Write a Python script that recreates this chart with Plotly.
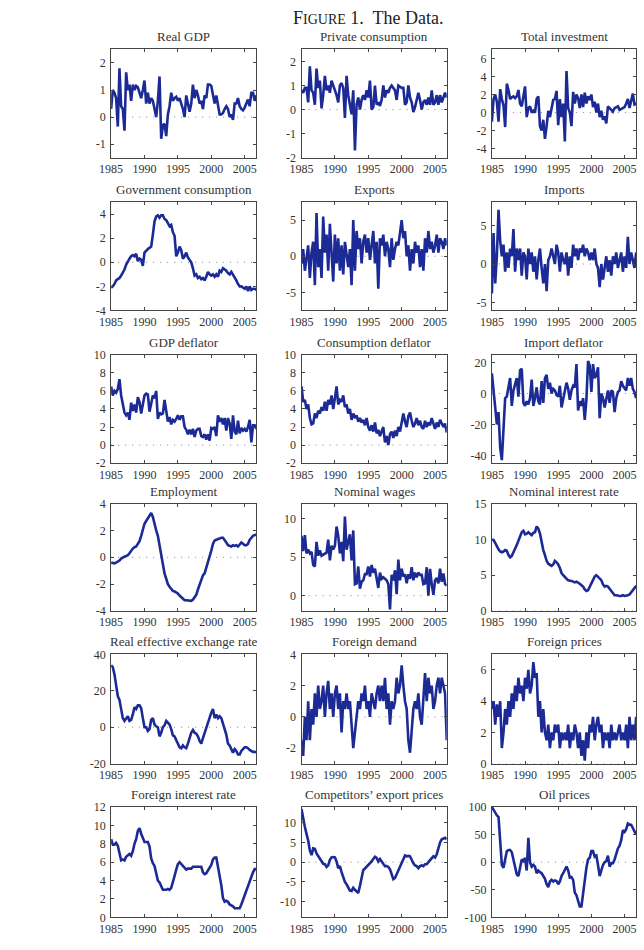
import plotly.graph_objects as go

# ---------------- data (quarterly, 1985Q1 - 2006Q4) ----------------
years = list(range(1985, 2007))
x_ticks = [1985, 1990, 1995, 2000, 2005]

titles = [
    "Real GDP", "Private consumption", "Total investment",
    "Government consumption", "Exports", "Imports",
    "GDP deflator", "Consumption deflator", "Import deflator",
    "Employment", "Nominal wages", "Nominal interest rate",
    "Real effective exchange rate", "Foreign demand", "Foreign prices",
    "Foreign interest rate", "Competitors\u2019 export prices", "Oil prices",
]

real_gdp = [
    0.3, 1.0, 0.9, 0.7,
    -0.35, 1.8, 0.4, 0.3,
    -0.5, 1.65, 1.0, 1.2,
    0.6, 1.2, 1.0, 1.15,
    1.1, 0.9, 0.7, 1.0,
    1.35, 0.5, 0.9, 0.5,
    0.7, 0.6, 0.3, 0.0,
    0.6, 1.5, -0.8, -0.3,
    -0.25, -0.7, 0.1, 0.4,
    0.9, 0.6, 0.7, 0.75,
    0.6, 0.7, 0.5, 0.3,
    0.0, 0.8, 0.5, 0.2,
    0.5, 1.2, 0.7, 1.0,
    0.8, 0.5, 0.6, 0.3,
    0.8, 0.7, 1.2, 1.2,
    1.15, 0.8, 0.5, 0.8,
    0.5, 0.1, 0.1, 0.15,
    0.3, 0.4, 0.3, 0.0,
    0.1, -0.1, 0.5, 0.5,
    0.7, 0.4, 0.3, 0.25,
    0.35, 0.5, 0.65, 0.4,
    0.9, 0.9, 0.6, 0.8,
]

private_consumption = [
    0.8, 0.7, 0.9, 0.9,
    0.3, 1.8, 0.8, 0.7,
    0.2, 1.7, 0.9, 1.2,
    0.05, 0.6, 1.4, 0.8,
    1.0, 0.7, 1.2, 1.0,
    0.8, 0.6, 0.3, 1.0,
    1.1, 0.9, -0.35, 1.4,
    0.6, 0.2, -0.2, 0.8,
    -1.7, 0.2, 0.5, 0.0,
    0.4, 0.6, 0.4, 0.8,
    0.5, 1.2, 0.0, 0.1,
    1.0, 0.2, 0.3, 0.15,
    0.4, 1.0, 0.5, 0.8,
    0.7, 0.9, 1.0, 0.9,
    0.8, 0.4, 1.0, 0.95,
    0.9, 0.9, 0.2, 0.3,
    1.0, 0.5, 0.3, -0.1,
    0.1, 0.4, 0.7, 0.4,
    0.0, 0.3, 0.4, 0.2,
    0.5, 0.2, 0.8, 0.2,
    0.3, 0.6, 0.2, 0.6,
    0.3, 0.5, 0.7, 0.5,
]

total_investment = [
    -1.0, 1.5, 2.0, 1.2,
    -1.0, 2.6, 1.5, 0.8,
    -1.6, 3.2, 2.5, 1.5,
    1.7, 1.8, 1.6, 1.8,
    2.5, 1.0, 0.7, 2.0,
    2.9, -0.5, 0.5, 0.7,
    0.0, 0.2, 0.0, 1.5,
    1.8, -1.5, -2.0, -0.8,
    -2.9, -1.5, 0.2, -0.5,
    0.3, 1.4, 1.5, 2.4,
    -1.4, 1.5, -0.5, 1.0,
    -3.2, 4.6, 0.5, 0.0,
    -1.5, 2.3, 1.0, 2.0,
    1.6, 0.5, 2.0, 0.6,
    2.2, 1.0, 1.8, 1.4,
    2.0, 0.6, 1.2, 0.0,
    1.0, -0.5, 0.2, -0.8,
    -0.4, -1.2, 0.7, 0.5,
    0.3, 0.1, 0.5, 0.6,
    0.7, 0.3, 0.4, 0.5,
    0.6, 1.0, 1.5, 0.5,
    1.2, 2.1, 0.9, 1.0,
]

government_consumption = [
    -2.1, -2.0, -1.8, -1.5,
    -1.4, -1.3, -1.1, -0.9,
    -0.6, -0.2, 0.1, 0.3,
    0.5, 0.6, 0.5, 0.7,
    0.1, 0.3, 0.2, -0.3,
    0.8, 1.0, 1.1, 1.2,
    1.3, 2.3, 3.4, 3.8,
    3.9, 3.7, 3.9, 3.9,
    3.6, 3.5, 3.2, 3.0,
    3.1, 2.5, 2.2, 0.5,
    0.8, 1.3, 1.0, 0.3,
    0.5, 0.8, 0.4, 0.2,
    0.0, -0.5, -1.1, -1.0,
    -1.3, -1.2, -1.4, -1.3,
    -1.5, -1.2, -0.8, -1.0,
    -1.1, -1.0, -1.2, -1.0,
    -1.2, -0.7, -0.8, -0.5,
    -0.6, -0.7, -0.9, -1.0,
    -0.8, -1.0, -1.3, -1.5,
    -1.8, -2.0, -2.0, -2.1,
    -2.2, -2.0, -2.4, -2.0,
    -2.3, -2.2, -2.2, -2.3,
]

exports = [
    -1.0, 1.0, -2.0, -0.5,
    1.5, -3.0, 0.5, 2.0,
    -4.0, 6.0, -1.5, 1.0,
    -3.0, 5.5, 0.5, 3.0,
    -2.0, 4.5, 1.0, -3.5,
    3.0, -1.0, 2.5, -2.0,
    1.5, -2.5, 2.0, 0.5,
    -1.5, 1.0, -4.0, 5.0,
    -2.0, 3.5, 1.0, 2.5,
    -1.0, 2.0, 3.0, 0.5,
    2.5, -0.5, 1.5, 3.5,
    -1.0, 2.0, -4.5, 2.5,
    1.5, 3.0, 0.0, 2.0,
    1.0, -1.5, 2.5, -0.5,
    1.0, 2.0, 1.5, 3.0,
    5.0, 2.5, 3.5, 0.0,
    1.5, -2.0, 1.0, -1.0,
    2.0, 0.5, 1.5, -1.5,
    1.0, -2.0, 2.5, 0.5,
    3.5, 1.0, 2.0, 0.5,
    1.5, 3.0, 0.5, 2.5,
    2.0, 1.0, 2.5, 1.5,
]

imports = [
    -3.8, 4.0, -2.5, 1.0,
    7.0, 3.0, 1.0, 2.5,
    -1.0, 1.5, -0.5, 2.0,
    1.0, 4.5, -1.0, 2.0,
    0.5, 2.0, -1.5, 1.5,
    1.0, -2.0, 2.0, 0.0,
    1.5, -1.0, 1.0, -2.0,
    0.5, 2.0, -0.5, -2.5,
    0.0, -3.5, 0.5, 1.0,
    2.0, 1.0, 0.0, 2.5,
    1.5, -1.0, 1.5, 0.5,
    0.0, 1.5, -1.5, 1.0,
    -0.5, 2.5, 1.0, 2.0,
    0.5, 2.0, 1.5, 2.5,
    1.0, 2.0, 1.5, 0.5,
    1.5, 0.5, 2.0, 0.0,
    -0.5, -3.0, 0.0, -2.0,
    -0.5, 1.0, -1.0, 0.5,
    -1.5, 1.0, 0.0, 1.5,
    -0.5, 0.5, 1.5, -1.0,
    1.0, -0.5, 3.5, 0.0,
    1.5, 0.5, -0.5, 1.5,
]

gdp_deflator = [
    6.5, 5.5, 6.0, 5.8,
    6.2, 7.3, 5.5, 4.5,
    3.6, 3.3, 3.6, 2.8,
    4.7, 3.8, 4.5, 3.6,
    5.3, 4.8, 3.5, 4.5,
    5.5, 5.7, 5.6, 3.7,
    4.8, 5.5, 5.2, 6.0,
    2.9, 3.6, 3.4, 3.5,
    5.0, 3.6, 2.6, 3.1,
    2.3, 2.8, 2.6, 2.9,
    3.3, 2.8, 3.2, 3.2,
    2.0, 1.7, 1.2, 1.7,
    1.2, 1.8, 0.9, 1.6,
    1.8, 1.8, 1.0, 0.9,
    1.2, 0.6, 1.2, 0.5,
    1.9, 1.8, 2.0, 1.0,
    3.3, 2.6, 3.0, 2.3,
    3.0, 1.6, 3.0, 2.4,
    0.7, 3.3, 1.5, 1.2,
    2.7, 1.3, 1.9, 1.6,
    1.8, 1.5, 2.0, 2.8,
    0.3, 2.2, 2.2, 1.8,
]

consumption_deflator = [
    6.5, 4.8, 5.0, 4.0,
    4.5, 3.0, 2.3, 2.4,
    3.5, 3.0, 3.8, 3.5,
    4.2, 3.8, 4.8, 3.8,
    5.0, 4.5, 5.5, 4.0,
    5.2, 6.5, 4.5, 5.0,
    4.8, 5.5, 4.2, 4.5,
    3.5, 4.0, 2.8, 3.5,
    3.0, 3.3, 2.6, 3.0,
    2.5, 2.8, 2.2, 3.0,
    2.0, 1.6, 2.2, 1.5,
    2.5, 1.3, 1.7, 1.0,
    1.5, 2.0, 0.3, 1.0,
    0.0, 1.2, 1.5, 0.8,
    1.6, 1.0, 2.0, 1.5,
    2.5, 3.5, 2.6, 2.0,
    3.2, 3.6, 2.7, 2.0,
    2.4, 3.0, 2.2, 2.7,
    2.0, 1.8, 2.7, 2.0,
    2.5, 2.2, 3.0, 2.3,
    1.8, 2.5, 2.0, 2.8,
    2.3, 2.0, 2.4, 1.4,
]

import_deflator = [
    13, 3, -8, -20,
    -12, -35, -43, -20,
    -3, -2, 5, 10,
    -8, 2, 6, 10,
    -2, 15, 16, -6,
    -8, -5, -7, -3,
    9, -8, -3, 4,
    -5, -7, 8, -6,
    10, 12, 3, 7,
    0, 3, 2, -1,
    -2, 5, -9, -3,
    1, 7, 3, -4,
    2, 5, 4, 19,
    -11, -5, -8, -3,
    -17, -4, 21, 18,
    1, 19, 10, 12,
    17, -16, 0, -3,
    -9, -2, 2, -6,
    2, 1, -12, -3,
    1, 2, 8, 5,
    3, 2, 10, 5,
    10, 3, 1, -3,
]

employment = [
    -0.4, -0.42, -0.45, -0.4,
    -0.35, -0.25, -0.1, 0.0,
    0.05, 0.1, 0.15, 0.3,
    0.5, 0.65, 0.75, 0.8,
    1.0, 1.2, 1.6, 2.1,
    2.5, 2.7, 2.9, 3.1,
    3.3, 3.0, 2.4, 2.0,
    1.6, 0.9, 0.0, -0.6,
    -1.2, -1.6, -2.0, -2.2,
    -2.4, -2.5, -2.55, -2.6,
    -2.7, -2.85, -2.95, -3.1,
    -3.2, -3.2, -3.2, -3.25,
    -3.25, -3.15, -3.0, -2.8,
    -2.4, -2.0, -1.6, -1.35,
    -1.2, -0.8, -0.4, 0.1,
    0.5, 1.0, 1.25, 1.3,
    1.35, 1.45, 1.45, 1.45,
    1.3, 1.1, 0.9, 0.85,
    0.8, 0.9, 0.85, 0.9,
    0.8, 0.95, 1.1, 1.0,
    0.9, 0.9, 1.0, 1.3,
    1.5, 1.6, 1.65, 1.7,
]

nominal_wages = [
    7.8, 5.8, 7.9, 5.5,
    6.0, 5.5, 5.7, 4.0,
    3.8, 7.0, 5.2, 5.9,
    5.2, 5.3, 5.4, 5.6,
    7.3, 4.6, 6.5, 6.0,
    6.5, 9.0, 7.8, 5.5,
    7.0, 4.5, 10.3, 6.0,
    7.0, 8.0, 4.6, 8.5,
    1.5, 1.6, 3.8, 0.9,
    1.8, 2.0, 2.8, 2.8,
    3.8, 2.5, 4.0, 3.0,
    3.5, 2.0, 1.0, 3.0,
    2.2, 2.4, 2.2, 2.0,
    1.5, -1.8, 2.7, 2.0,
    3.3, 0.2, 4.7, 2.0,
    3.5, 2.5, 2.8, 1.6,
    2.8, 2.2, 3.7, 2.0,
    3.0, 2.4, 3.0, 2.7,
    2.7, 1.5, 1.6, 3.7,
    0.0, 3.5, 1.5, 0.1,
    2.0, 2.3, 1.6, 3.5,
    1.8, 2.9, 1.5, 1.3,
]

nominal_interest_rate = [
    10.0, 9.9, 9.5, 9.0,
    8.6, 8.3, 8.2, 8.3,
    8.5, 8.4, 7.8, 7.5,
    7.7, 8.2, 8.6, 9.2,
    9.8, 10.5, 11.0, 11.2,
    10.7, 10.8, 11.0, 10.8,
    10.6, 10.9, 11.0, 11.8,
    11.5, 10.8, 9.5, 8.5,
    7.8, 7.0, 6.6, 6.5,
    6.3, 6.5, 7.0, 6.8,
    6.5, 6.0, 5.3, 5.0,
    4.7, 4.5, 4.3, 4.3,
    4.2, 4.1, 4.0, 4.1,
    4.0, 3.8, 3.6, 3.4,
    3.0, 2.8, 2.9, 3.4,
    3.8, 4.3, 4.8, 5.0,
    4.8, 4.6, 4.3, 3.7,
    3.4, 3.5, 3.4, 3.1,
    2.8, 2.4, 2.2, 2.2,
    2.1, 2.1, 2.1, 2.2,
    2.1, 2.1, 2.2, 2.3,
    2.6, 2.9, 3.2, 3.5,
]

real_effective_exchange_rate = [
    34, 33, 29, 23,
    17, 15, 10, 5,
    3.5, 5, 6, 3.5,
    4, 7, 11, 10,
    12, 12, 10.5, 5,
    0, 0, -2, -1,
    4, 5, 1.5, 0.5,
    0, -5, -3, 0,
    1, 3.5, 2.5, 1.5,
    -1, -4.5, -5, -7,
    -9, -11, -11.5, -10,
    -11, -11.5, -9, -6,
    -3, -1.5, -3, -3.5,
    -5, -7.5, -9, -6,
    -3, -1, 2, 6,
    8, 10, 5, 7,
    5, 6, 5, 2,
    -1, -4, -9, -10,
    -12, -14, -12, -13,
    -15, -15, -13, -12,
    -11, -11, -11.5, -12.5,
    -13, -13.5, -13.5, -13.8,
]

foreign_demand = [
    -1.5, -2.5, 0.0, -1.5,
    1.0, -1.5, 0.5, -0.5,
    1.5, 0.0, 2.0, 0.5,
    1.0, 2.0, 0.0, 1.5,
    2.3, 0.5, 1.5, 0.0,
    1.5, 2.0, 0.5, 1.5,
    -1.0, 1.0, 0.5, 1.5,
    0.5, 1.0, -0.5, -2.0,
    -1.0, 0.0, 1.0, 0.5,
    1.5, 1.0, 2.0, 0.5,
    1.0, 0.0, 1.5, 1.0,
    0.5, 1.5, 2.0, 1.0,
    2.0, 1.0, 2.5, 0.5,
    1.5, -0.5, 1.0, 0.5,
    1.0, 2.5, 1.5, 2.0,
    3.3, 2.0, 1.0, 0.5,
    -1.5, -2.3, -1.0, 0.5,
    1.0, 0.5, 1.5, 0.0,
    -0.5, 1.5, 2.8, 1.0,
    2.5, 1.5, 2.0, 0.5,
    1.0, 2.0, 2.5, 1.5,
    2.5, 2.0, 1.5, -1.5,
]

foreign_prices = [
    3.5, 4.0, 2.5, 3.8,
    3.0, 4.0, 1.0, 2.0,
    3.5, 2.5, 4.0, 3.0,
    4.5, 3.5, 5.0, 4.0,
    5.5, 4.5, 5.0, 4.0,
    5.5, 4.8, 6.0, 4.5,
    5.0, 6.5, 5.5, 5.8,
    3.0, 4.0, 2.0, 3.5,
    2.0, 1.5, 2.5, 1.0,
    2.0, 1.5, 2.5, 2.0,
    2.5, 1.0, 2.0, 1.5,
    2.0, 1.5, 2.5, 1.0,
    2.0, 1.5, 2.5, 2.0,
    1.0, 2.0, 0.5, 1.5,
    0.2, 2.0, 1.0, 2.5,
    2.0, 3.0, 1.5, 2.5,
    3.0, 2.0, 2.5, 1.0,
    2.0, 1.5, 2.0, 1.0,
    2.5, 1.5, 2.0, 1.5,
    2.0, 2.5, 1.5, 2.0,
    1.5, 2.5, 1.0, 3.0,
    1.5, 2.5, 1.5, 3.0,
]

foreign_interest_rate = [
    8.5, 7.9, 7.9, 8.1,
    7.8, 6.9, 6.2, 6.3,
    6.2, 6.6, 6.8, 6.9,
    6.7, 7.2, 8.0, 8.5,
    9.4, 9.7, 9.1, 8.6,
    8.2, 8.2, 8.2, 7.7,
    6.4, 5.9, 5.6, 4.8,
    4.0, 3.8, 3.3, 3.0,
    3.0, 3.0, 3.1, 3.0,
    3.2, 4.0, 4.5, 5.2,
    5.8, 6.0, 5.8, 5.7,
    5.4, 5.2, 5.3, 5.3,
    5.3, 5.5, 5.5, 5.5,
    5.5, 5.5, 5.5, 4.9,
    4.7, 4.8, 5.1, 5.3,
    5.7, 6.3, 6.5, 6.5,
    5.6, 4.3, 3.5, 2.1,
    1.7, 1.8, 1.7, 1.4,
    1.3, 1.2, 1.0, 1.0,
    1.0, 1.0, 1.4, 1.9,
    2.5, 2.9, 3.4, 4.0,
    4.5, 4.9, 5.25, 5.25,
]

competitors_export_prices = [
    13.5, 11.0, 9.0, 7.2,
    5.5, 3.0, 1.8, 3.5,
    3.4, 2.2, 1.6, 1.0,
    0.2, -0.4, -0.5, -1.2,
    -0.8, 0.6, 1.2, 1.3,
    1.2, 0.2, -1.5, -1.0,
    -2.5, -3.8, -5.0, -5.6,
    -6.5, -7.2, -7.3, -6.5,
    -7.0, -7.5, -7.8, -6.0,
    -3.5, -2.0, -1.6, -1.2,
    -0.8, -0.4, 0.2, 0.8,
    1.4, 1.1, 0.2, 0.8,
    0.1, -0.4, -1.0, -1.0,
    -1.2, -1.8, -3.0, -4.3,
    -4.0, -3.0, -2.0, -1.2,
    0.0, 0.8, 1.7, 1.5,
    1.6, 1.5, 0.5, -0.3,
    -0.8, -1.0, -1.5, -1.0,
    -0.8, -1.0, -0.5, -0.5,
    0.0, 0.5, 1.2, 1.5,
    1.2, 2.0, 3.5, 5.0,
    5.8, 6.0, 6.2, 5.8,
]

oil_prices = [
    100, 95, 88, 85,
    82, 40, -5, -10,
    3, 20, 22, 22,
    18, 3, -7, -22,
    -25, -10, 5, 2,
    8, -15, 44, 0,
    -8, -5, -8, -20,
    -15, -18, -20, -25,
    -30, -40, -45, -35,
    -32, -35, -33, -34,
    -40, -35, -25, -20,
    -15, -8, -15, -28,
    -27, -32, -55, -60,
    -70, -80, -80, -55,
    -30, -10, 5, 8,
    20, 20, 10, 12,
    -5, -25, -15, -5,
    0, 2, 12, -8,
    -2, -2, 5, 15,
    25, 30, 40, 58,
    55, 60, 70, 68,
    68, 62, 55, 50,
]

series = [
    real_gdp, private_consumption, total_investment,
    government_consumption, exports, imports,
    gdp_deflator, consumption_deflator, import_deflator,
    employment, nominal_wages, nominal_interest_rate,
    real_effective_exchange_rate, foreign_demand, foreign_prices,
    foreign_interest_rate, competitors_export_prices, oil_prices,
]

y_ranges = [
    [-1.5, 2.5], [-2, 2.5], [-5, 7],
    [-4, 5], [-7.5, 7.5], [-6, 8],
    [-2, 10], [-2, 10], [-45, 25],
    [-4, 4], [-2, 12], [0, 15],
    [-20, 40], [-3, 4], [0, 7],
    [0, 12], [-14, 14], [-100, 100],
]

y_ticks = [
    [-1, 0, 1, 2], [-2, -1, 0, 1, 2], [-4, -2, 0, 2, 4, 6],
    [-4, -2, 0, 2, 4], [-5, 0, 5], [-5, 0, 5],
    [-2, 0, 2, 4, 6, 8, 10], [-2, 0, 2, 4, 6, 8, 10], [-40, -20, 0, 20],
    [-4, -2, 0, 2, 4], [0, 5, 10], [0, 5, 10, 15],
    [-20, 0, 20, 40], [-2, 0, 2, 4], [0, 2, 4, 6],
    [0, 2, 4, 6, 8, 10, 12], [-10, -5, 0, 5, 10], [-100, -50, 0, 50, 100],
]

# ---------------- layout ----------------
W, H = 644, 950
COL_PX = [(101, 249), (295, 443), (489, 636)]
ROW_PX = [(43, 153), (198, 308), (353, 463), (504, 613), (657, 768), (812, 924)]
BLUE = "#1c2a96"
FRAME = "#444444"
TXT = "#333333"
FONT = "Liberation Serif, Times New Roman, serif"

dates = [y + q / 4 for y in years for q in range(4)]

fig = go.Figure()
layout_axes = {}
for i, (title, vals, yr, yt) in enumerate(zip(titles, series, y_ranges, y_ticks)):
    r, c = divmod(i, 3)
    n = i + 1
    sfx = "" if n == 1 else str(n)
    xa, ya = "x" + sfx, "y" + sfx
    fig.add_trace(go.Scatter(
        x=dates, y=vals, mode="lines",
        line=dict(color=BLUE, width=2.6),
        xaxis=xa, yaxis=ya, showlegend=False, hoverinfo="skip",
    ))
    x0, x1 = COL_PX[c]
    y0, y1 = ROW_PX[r]
    common = dict(
        showline=True, linecolor=FRAME, linewidth=1, mirror="ticks",
        ticks="inside", ticklen=3, tickcolor=FRAME, tickwidth=1,
        showgrid=False, zeroline=False,
        tickfont=dict(family=FONT, size=12, color=TXT),
    )
    layout_axes["xaxis" + sfx] = dict(
        domain=[x0 / W, x1 / W], anchor=ya, range=[1985, 2006.75],
        tickvals=x_ticks, ticktext=[str(t) for t in x_ticks], **common,
    )
    layout_axes["yaxis" + sfx] = dict(
        domain=[1 - y1 / H, 1 - y0 / H], anchor=xa, range=yr,
        tickvals=yt, ticktext=[str(t) for t in yt], ticklabelstandoff=2,
        **common,
    )
    fig.add_shape(
        type="line", xref=xa + " domain", yref=ya, x0=0, x1=1, y0=0, y1=0,
        line=dict(color="#888888", width=1, dash="1px,6px"), layer="below",
    )
    fig.add_annotation(
        text=title, xref="paper", yref="paper",
        x=(x0 + x1) / 2 / W, y=1 - y0 / H, xanchor="center", yanchor="bottom",
        yshift=3, showarrow=False, font=dict(family=FONT, size=13, color=TXT),
    )

fig.add_annotation(
    text='F<span style="font-size:14px">IGURE</span> 1.  The Data.',
    xref="paper", yref="paper", x=363 / W, y=1 - 11 / H,
    xanchor="center", yanchor="middle", showarrow=False,
    font=dict(family=FONT, size=18, color="#222222"),
)

fig.update_layout(
    width=W, height=H, margin=dict(l=0, r=0, t=0, b=0),
    paper_bgcolor="white", plot_bgcolor="white",
    **layout_axes,
)

fig.write_html("out.html")
